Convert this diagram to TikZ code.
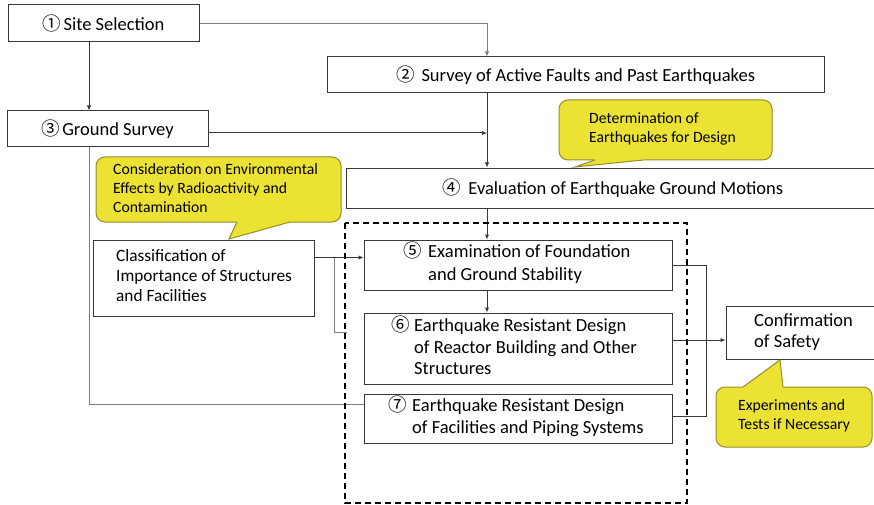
\documentclass[tikz,border=0pt]{standalone}
\usepackage{fontspec}
\setmainfont{Carlito}
\newfontfamily\cjkf{Noto Sans CJK JP}
\usetikzlibrary{arrows.meta,calc}
\definecolor{cfill}{RGB}{236,226,52}
\definecolor{cline}{RGB}{150,140,40}
\definecolor{bline}{RGB}{55,55,55}
\definecolor{gline}{RGB}{125,125,125}
\newcommand{\cn}[1]{{\cjkf #1}}
\begin{document}
\begin{tikzpicture}[x=1pt,y=-1pt,
  box/.style={draw=bline,line width=1pt,fill=white,inner sep=0pt,font=\fontsize{18.5}{22}\selectfont},
  conn/.style={draw=bline,line width=1pt},
  arr/.style={conn,-{Latex[length=5pt,width=4.5pt]}},
  gconn/.style={draw=gline,line width=1pt},
  txt/.style={inner sep=0pt,anchor=west,font=\fontsize{18.5}{22}\selectfont},
  ctxt/.style={inner sep=0pt,anchor=west,font=\fontsize{15.7}{19}\selectfont},
  callout/.style={fill=cfill,draw=cline,line width=1pt,rounded corners=9pt},
  tail/.style={draw=cline,line width=1pt},
  dashbox/.style={draw=black,line width=1.8pt,dash pattern=on 6pt off 4pt}]
\useasboundingbox (0,0) rectangle (874,505);
\fill[white] (0,0) rectangle (874,505);

% boxes
\node[box,minimum width=191pt,minimum height=37pt] (b1) at (103.5,23.5) {\cn{①}\hspace{2.5pt}Site Selection};
\node[box,minimum width=497pt,minimum height=36pt] (b2) at (575.5,75) {\cn{②}\hspace{7pt}Survey of Active Faults and Past Earthquakes};
\node[box,minimum width=201pt,minimum height=36pt] (b3) at (107.5,129) {\cn{③}\hspace{2.5pt}Ground Survey};
\node[box,minimum width=534pt,minimum height=40pt] (b4) at (613,188) {\cn{④}\hspace{7pt}Evaluation of Earthquake Ground Motions};
\node[box,minimum width=221pt,minimum height=76pt] (bc) at (203.5,278) {};
\node[box,minimum width=308pt,minimum height=50pt] (b5) at (518,265) {};
\node[box,minimum width=308pt,minimum height=71pt] (b6) at (518,348.5) {};
\node[box,minimum width=308pt,minimum height=49pt] (b7) at (518,418.5) {};
\node[box,minimum width=164pt,minimum height=53pt] (bs) at (808,332.5) {};

% texts of boxes
\node[txt,font=\fontsize{17.3}{20}\selectfont] (tcl) at (116,277) {\begin{tabular}{@{}l@{}}Classification of\\Importance of Structures\\and Facilities\end{tabular}};
\node[txt,font=\fontsize{18.5}{22.5}\selectfont] (t5) at (403,264.5) {\begin{tabular}{@{}l@{\hspace{6.5pt}}l@{}}\cn{⑤} & Examination of Foundation\\ & and Ground Stability\end{tabular}};
\node[txt,font=\fontsize{18.5}{21.5}\selectfont] (t6) at (391,348.5) {\begin{tabular}{@{}l@{\hspace{4.5pt}}l@{}}\cn{⑥} & Earthquake Resistant Design\\ & of Reactor Building and Other\\ & Structures\end{tabular}};
\node[txt] (t7) at (388,418) {\begin{tabular}{@{}l@{\hspace{5.5pt}}l@{}}\cn{⑦} & Earthquake Resistant Design\\ & of Facilities and Piping Systems\end{tabular}};
\node[txt,font=\fontsize{18.5}{21}\selectfont] (ts) at (754,332.5) {\begin{tabular}{@{}l@{}}Confirmation\\of Safety\end{tabular}};

% helper coordinates
\coordinate (sp) at (487,0);
\coordinate (lx) at (89,0);
\coordinate (bus) at (706,0);

% connectors
\draw[arr,draw=gline] (b1.east) -| (b2.north -| sp);
\draw[arr] (b1.south -| lx) -- (b3.north -| lx);
\coordinate (g3) at ($(b3.east)+(0,4)$);
\draw[arr] (g3) -- (g3 -| sp);
\draw[arr] (b2.south -| sp) -- (b4.north -| sp);
\draw[arr] (b4.south -| sp) -- (b5.north -| sp);
\draw[arr] (b5.south -| sp) -- (b6.north -| sp);
\coordinate (c1) at ($(bc.north east)+(0,18)$);
\draw[arr] (c1) -- (c1 -| b5.west);
\coordinate (cb) at ($(c1)+(20,0)$);
\coordinate (c6) at (347,332);
\draw[gconn] (cb) |- (c6);
\draw[gconn] (b3.south -| lx) |- ($(b7.west)+(0,-14.5)$);
\coordinate (s5) at (b5.east);
\coordinate (s7) at ($(b7.east)+(0,-2.5)$);
\draw[conn] (s5) -| (s7 -| bus) -- (s7);
\coordinate (s6) at ($(b6.east)+(0,-8.5)$);
\draw[arr] (s6) -- (s6 -| bs.west);

% dashed group
\draw[dashbox] (345,223) rectangle (687,503);

% callout A
\draw[callout] (96,157) rectangle (341,222);
\fill[cfill] (236,218.5) -- (292,218.5) -- (290,222) -- (229,239) -- (237,222) -- cycle;
\draw[tail] (290,222) -- (229,239) -- (237,222);
\node[ctxt] (ta) at (113,190) {\begin{tabular}{@{}l@{}}Consideration on Environmental\\Effects by Radioactivity and\\Contamination\end{tabular}};

% callout B
\draw[callout] (559,100) rectangle (772,160);
\fill[cfill] (594,156.5) -- (645,156.5) -- (643,160) -- (575,167) -- (595,160) -- cycle;
\draw[tail] (643,160) -- (575,167) -- (595,160);
\node[ctxt] (tb) at (589,129.5) {\begin{tabular}{@{}l@{}}Determination of\\Earthquakes for Design\end{tabular}};

% callout C
\draw[callout] (716,387) rectangle (872,447);
\fill[cfill] (741,390.5) -- (784,390.5) -- (783,387) -- (780,360) -- (743,387) -- cycle;
\draw[tail] (743,387) -- (780,360) -- (783,387);
\node[ctxt] (tc) at (738,416.5) {\begin{tabular}{@{}l@{}}Experiments and\\Tests if Necessary\end{tabular}};
\end{tikzpicture}
\end{document}
